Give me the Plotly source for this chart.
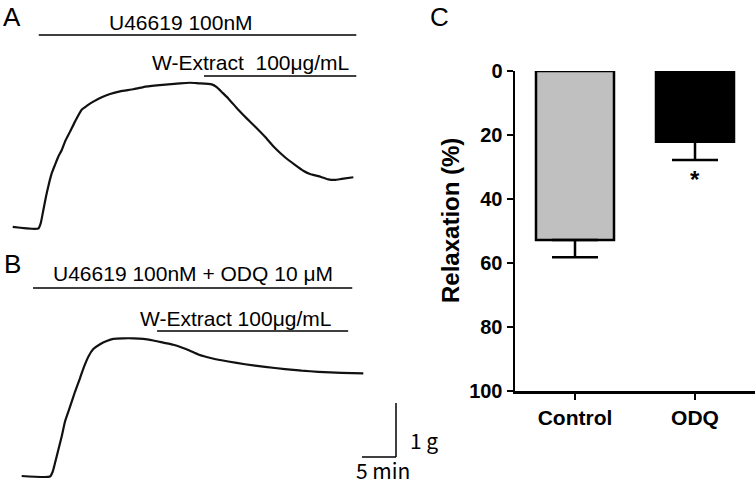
import plotly.graph_objects as go

W, H = 756, 487

# ---------------- data ----------------
# Panel A trace (time in min, tension in g)
a_time = [1.87, 5.63, 5.99, 6.37, 6.76, 7.10, 7.60, 8.09, 8.57, 9.07, 9.56, 10.29, 11.03,
          12.01, 12.75, 13.72, 14.96, 16.18, 17.65, 19.60, 21.07, 23.04, 24.75, 26.47, 27.94,
          29.16, 31.13, 31.87, 32.60, 33.57, 35.04, 36.28, 37.50, 38.97, 40.44, 41.91, 43.38,
          44.60, 45.59, 46.81, 48.28, 49.26, 50.25, 51.96]
a_tension = [0.02, -0.01, 0.09, 0.33, 0.58, 0.77, 1.01, 1.17, 1.32, 1.44, 1.60, 1.78, 1.97,
             2.19, 2.26, 2.34, 2.42, 2.48, 2.53, 2.57, 2.61, 2.64, 2.66, 2.68, 2.69,
             2.68, 2.66, 2.61, 2.52, 2.40, 2.19, 2.03, 1.88, 1.69, 1.48, 1.31, 1.17,
             1.06, 1.00, 0.96, 0.90, 0.89, 0.91, 0.94]

# Panel B trace
b_time = [3.19, 7.35, 7.75, 8.09, 8.57, 9.07, 9.56, 10.29, 11.03, 11.76, 12.35, 12.99, 13.72,
          14.71, 15.69, 16.66, 18.13, 19.60, 21.07, 22.54, 24.01, 25.49, 26.72, 27.94, 29.16,
          31.13, 33.57, 36.03, 38.97, 41.91, 44.37, 46.81, 50.25, 53.43]
b_tension = [0.00, -0.01, 0.08, 0.24, 0.48, 0.73, 1.01, 1.28, 1.56, 1.81, 2.02, 2.21, 2.35,
             2.44, 2.50, 2.54, 2.55, 2.55, 2.54, 2.51, 2.47, 2.43, 2.38, 2.32, 2.25,
             2.18, 2.12, 2.07, 2.02, 1.98, 1.95, 1.93, 1.91, 1.90]

# Drug application periods (start, end) in min
a_u46619 = (5.7, 52.4)
a_wext = (30.0, 52.4)
b_u46619 = (4.85, 51.8)
b_wext = (23.1, 51.2)

# Scale bar
scale_min = 5
scale_g = 1

# Panel C
categories = ["Control", "ODQ"]
relaxation = [52.8, 22.1]
sem = [5.4, 5.7]
y_ticks = [0, 20, 40, 60, 80, 100]

# ---------------- helpers ----------------
PX_PER_MIN = 6.8
PX_PER_G = 54.0


def px(x):
    return x / W


def py(y):
    return 1 - y / H


fig = go.Figure()

trace_line = dict(color="#111111", width=2.2, shape="spline", smoothing=0.5)
fig.add_trace(go.Scatter(x=a_time, y=a_tension, mode="lines", line=trace_line,
                         xaxis="x", yaxis="y", showlegend=False, hoverinfo="skip"))
fig.add_trace(go.Scatter(x=b_time, y=b_tension, mode="lines", line=trace_line,
                         xaxis="x2", yaxis="y2", showlegend=False, hoverinfo="skip"))

fig.add_trace(go.Bar(x=categories, y=relaxation, base=0, width=0.65,
                     marker=dict(color=["#c0c0c0", "#000000"], line=dict(color="black", width=2.5)),
                     error_y=dict(type="data", array=sem, arrayminus=[0, 0], symmetric=False,
                                  color="black", thickness=2.5, width=23),
                     xaxis="x3", yaxis="y3", showlegend=False, hoverinfo="skip"))

x_left_max = 440 / PX_PER_MIN
hidden = dict(visible=False, showgrid=False, zeroline=False, fixedrange=True)

layout = dict(
    width=W, height=H, margin=dict(l=0, r=0, t=0, b=0, autoexpand=False),
    paper_bgcolor="white", plot_bgcolor="rgba(0,0,0,0)",
    bargap=0,
    xaxis=dict(domain=[0, 440 / W], range=[0, x_left_max], anchor="y", **hidden),
    yaxis=dict(domain=[py(240), 1], range=[-12 / PX_PER_G, 228 / PX_PER_G], anchor="x", **hidden),
    xaxis2=dict(domain=[0, 440 / W], range=[0, x_left_max], anchor="y2", **hidden),
    yaxis2=dict(domain=[0, py(240)], range=[-11 / PX_PER_G, 236 / PX_PER_G], anchor="x2", **hidden),
    xaxis3=dict(domain=[px(515), px(755)], range=[-0.5, 1.5], anchor="y3", automargin=False,
                showline=True, linewidth=2.5, linecolor="black", showgrid=False, zeroline=False,
                ticks="outside", ticklen=6, tickwidth=2.5, tickcolor="black",
                tickfont=dict(family="Liberation Sans, Arial", size=21, color="black", weight="bold")),
    yaxis3=dict(domain=[py(391), py(71)], range=[100, 0], anchor="x3", automargin=False,
                showline=True, linewidth=2.5, linecolor="black", showgrid=False, zeroline=False,
                tickvals=y_ticks, ticks="outside", ticklen=6, tickwidth=2.5, tickcolor="black",
                tickfont=dict(family="Liberation Sans, Arial", size=20, color="black", weight="bold")),
)

shapes = []
line_style = dict(color="black", width=1.3)
# drug lines (y positions as layout constants, in g)
for (t0, t1), yl, ax in [(a_u46619, (228 - 35) / PX_PER_G, ""), (a_wext, (228 - 76) / PX_PER_G, ""),
                         (b_u46619, (476 - 288) / PX_PER_G, "2"), (b_wext, (476 - 331) / PX_PER_G, "2")]:
    shapes.append(dict(type="line", xref="x" + ax, yref="y" + ax, x0=t0, x1=t1, y0=yl, y1=yl,
                       line=line_style, layer="above"))

# scale bar in panel B coordinates
sb_t = 396 / PX_PER_MIN
sb_g = (476 - 457) / PX_PER_G
shapes.append(dict(type="line", xref="x2", yref="y2", x0=sb_t - scale_min, x1=sb_t, y0=sb_g, y1=sb_g,
                   line=dict(color="black", width=1.5)))
shapes.append(dict(type="line", xref="x2", yref="y2", x0=sb_t, x1=sb_t, y0=sb_g, y1=sb_g + scale_g,
                   line=dict(color="black", width=1.5)))
layout["shapes"] = shapes

kfont = "Noto Sans CJK KR, Noto Sans, sans-serif"
afont = "Liberation Sans, Arial, sans-serif"
annotations = [
    dict(text="A", x=px(12), y=1, yanchor="top", font=dict(family=afont, size=26, color="black")),
    dict(text="B", x=px(12), y=py(264), font=dict(family=afont, size=26, color="black")),
    dict(text="C", x=px(439), y=1, yanchor="top", font=dict(family=afont, size=26, color="black")),
    dict(text="U46619 100nM", x=px(181), y=py(23), font=dict(family=afont, size=21, color="black")),
    dict(text="W-Extract&nbsp;&nbsp;100μg/mL", x=px(250), y=py(62), font=dict(family=afont, size=21, color="black")),
    dict(text="U46619 100nM + ODQ 10 μM", x=px(193), y=py(273), font=dict(family=afont, size=21, color="black")),
    dict(text="W-Extract 100μg/mL", x=px(235), y=py(318), font=dict(family=afont, size=21, color="black")),
    dict(text="1 g", x=px(424), y=py(440), font=dict(family=kfont, size=21, color="black")),
    dict(text="5 min", x=px(383), y=0, yanchor="bottom", font=dict(family=kfont, size=21, color="black")),
    dict(text="Relaxation (%)", x=px(450), y=py(221), textangle=-90,
         font=dict(family=afont, size=24, color="black", weight="bold")),
    dict(text="*", x="ODQ", xref="x3", yref="y3", y=relaxation[1] + sem[1] + 6,
         font=dict(family=afont, size=24, color="black", weight="bold")),
]
for a in annotations:
    a.setdefault("xref", "paper")
    a.setdefault("yref", "paper")
    a.setdefault("showarrow", False)
    a.setdefault("xanchor", "center")
    a.setdefault("yanchor", "middle")
layout["annotations"] = annotations

fig.update_layout(**layout)
fig.write_html("out.html", config={"displayModeBar": False, "staticPlot": True},
               post_script="document.body.style.margin='0px';document.body.style.overflow='hidden';")
